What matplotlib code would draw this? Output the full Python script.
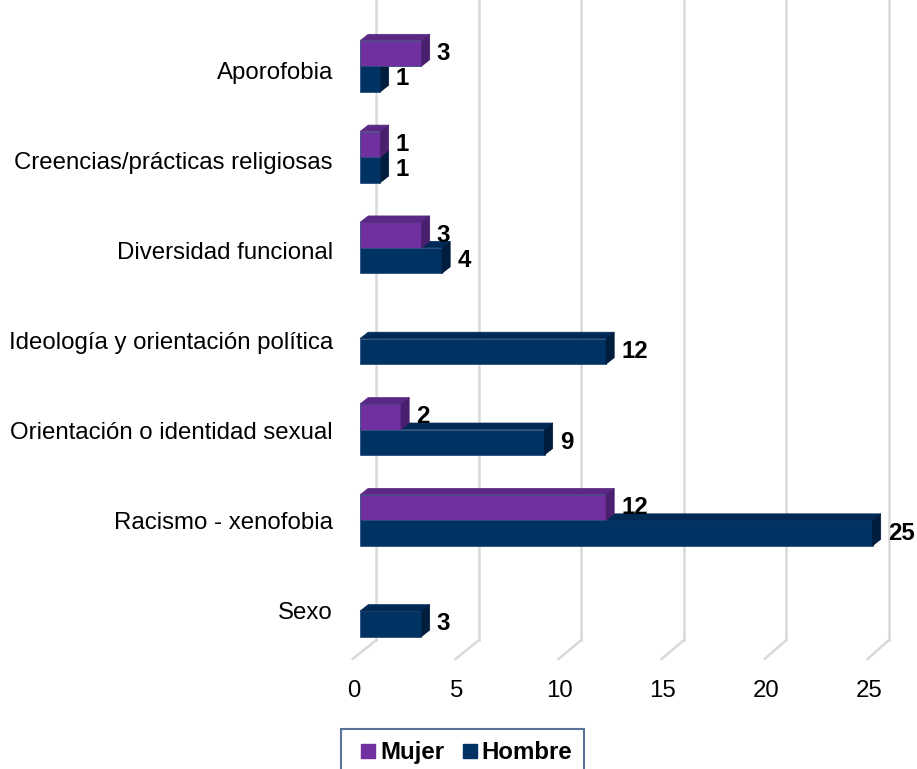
import matplotlib.pyplot as plt
from matplotlib.patches import Polygon
from matplotlib.lines import Line2D

# datos
categorias = ['Aporofobia', 'Creencias/prácticas religiosas', 'Diversidad funcional',
              'Ideología y orientación política', 'Orientación o identidad sexual',
              'Racismo - xenofobia', 'Sexo']
mujer = [3, 1, 3, 0, 2, 12, 0]
hombre = [1, 1, 4, 12, 9, 25, 3]
ticks = [0, 5, 10, 15, 20, 25]

plt.rcParams['font.family'] = ['Liberation Sans', 'DejaVu Sans']

fig = plt.figure(figsize=(9.17, 7.69), dpi=100)
ax = fig.add_axes([0, 0, 1, 1])
ax.set_xlim(-17.56, 27.17)
ax.set_ylim(7.733, -0.811)
ax.axis('off')

dx, dy = 0.40, -0.072   # profundidad del efecto 3D
h = 0.283               # alto de cada barra

# rejilla del fondo y suelo
for t in ticks:
    ax.plot([t + 0.8, t + 0.8], [-0.811, 6.30], color='#d9d9d9', lw=1.8, zorder=0)
    ax.plot([t + 0.8, t * 1.005 - 0.36], [6.30, 6.51], color='#d9d9d9', lw=1.8, zorder=0)
    ax.text(t * 1.005 - 0.3, 6.87, str(t), ha='center', va='center', fontsize=17.3)


def barra3d(y0, val, cara, arriba, lado, z):
    ax.barh(y0, val, height=h, left=0, align='edge', color=cara,
            edgecolor='#2c4f7c', lw=0.6, zorder=z)
    ax.add_patch(Polygon([(0, y0), (val, y0), (val + dx, y0 + dy), (dx, y0 + dy)],
                         closed=True, facecolor=arriba, edgecolor=arriba, lw=0.5, zorder=z))
    ax.add_patch(Polygon([(val, y0), (val + dx, y0 + dy), (val + dx, y0 + h + dy), (val, y0 + h)],
                         closed=True, facecolor=lado, edgecolor=lado, lw=0.5, zorder=z))
    ax.text(val + dx + 0.35, y0 + h / 2, str(val), ha='left', va='center',
            fontsize=17.3, fontweight='bold', zorder=10)


for i, cat in enumerate(categorias):
    b = i - 0.075 + 0.009 * i
    if hombre[i] > 0:
        barra3d(b, hombre[i], '#003263', '#002a55', '#001d3d', 2)
    if mujer[i] > 0:
        barra3d(b - h, mujer[i], '#7030a0', '#5b2886', '#4a1f6e', 3)
    ax.text(-1.32, i, cat, ha='right', va='center', fontsize=17.3)

handles = [Line2D([], [], marker='s', ls='', markersize=9.5,
                  markerfacecolor='#7030a0', markeredgecolor='#7030a0'),
           Line2D([], [], marker='s', ls='', markersize=9.5,
                  markerfacecolor='#003263', markeredgecolor='#003263')]
leg = ax.legend(handles, ['Mujer', 'Hombre'], loc='upper left',
                bbox_to_anchor=(341 / 917, 1 - 729 / 769), ncol=2, frameon=True,
                fancybox=False, prop={'weight': 'bold', 'size': 17.3},
                handlelength=1.28, handletextpad=-0.16, columnspacing=0.42,
                borderpad=0.5, borderaxespad=0)
leg.get_frame().set_edgecolor('#2f4f7f')
leg.get_frame().set_linewidth(1.5)

fig.savefig('out.png', dpi=100)
